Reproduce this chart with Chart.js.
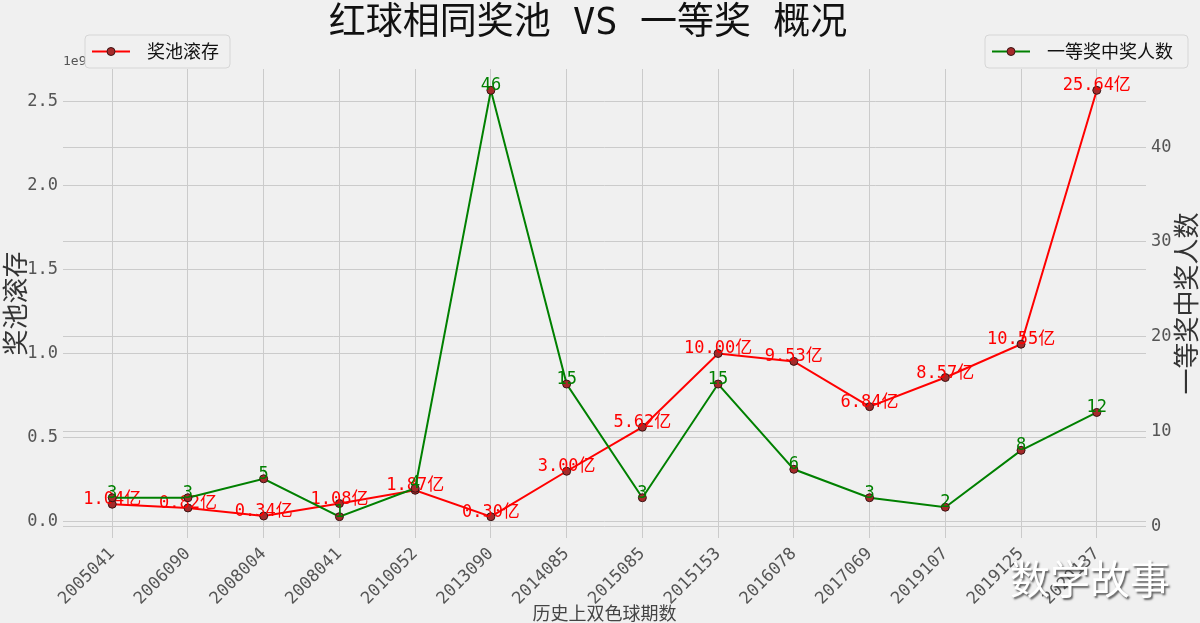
<!DOCTYPE html>
<html><head><meta charset="utf-8">
<script src="https://cdn.jsdelivr.net/npm/chart.js@4/dist/chart.umd.min.js"></script>
<style>html,body{margin:0;padding:0;background:#f0f0f0;overflow:hidden}#wrap{width:1200px;height:623px}</style>
</head><body><div id="wrap"><canvas id="c" width="1200" height="623"></canvas></div>
<script>
const categories = ['2005041','2006090','2008004','2008041','2010052','2013090','2014085','2015085','2015153','2016078','2017069','2019107','2019125','2020137'];
const poolYi = [1.04,0.82,0.34,1.08,1.87,0.30,3.00,5.62,10.00,9.53,6.84,8.57,10.55,25.64];
const winners = [3,3,5,1,4,46,15,3,15,6,3,2,8,12];
const leftTicks = [0,0.5,1.0,1.5,2.0,2.5];
const rightTicks = [0,10,20,30,40];
const titleText = '红球相同奖池 VS 一等奖 概况';
const leftLabel = '奖池滚存';
const rightLabel = '一等奖中奖人数';
const xLabel = '历史上双色球期数';
const watermark = '数学故事';

const MONO = "'DejaVu Sans Mono','Noto Sans CJK SC',sans-serif";
const CJK = "'Noto Sans CJK SC','DejaVu Sans Mono',sans-serif";
const RED = '#ff0000', GREEN = '#008000', MARK = '#a52a2a', MARKEDGE = '#3a1515';

const poolData = categories.map((c,i)=>({x:i, y:poolYi[i]/10}));
const winData = categories.map((c,i)=>({x:i, y:winners[i]}));

const bgPlugin = {
  id:'bg',
  beforeDraw(chart){
    const ctx = chart.ctx; ctx.save();
    ctx.fillStyle = '#f0f0f0'; ctx.fillRect(0,0,chart.width,chart.height);
    ctx.restore();
  }
};

const labelPlugin = {
  id:'labels',
  afterDatasetDraw(chart, args){
    const ctx = chart.ctx; const meta = args.meta; const i = args.index;
    ctx.save();
    ctx.font = '17px ' + MONO;
    ctx.textAlign = 'center'; ctx.textBaseline = 'alphabetic';
    ctx.fillStyle = i === 0 ? RED : GREEN;
    meta.data.forEach((pt, k) => {
      const txt = i === 0 ? poolYi[k].toFixed(2) + '亿' : String(winners[k]);
      ctx.fillText(txt, pt.x, pt.y);
    });
    ctx.restore();
  }
};

function legendBox(ctx, x, y, w, h, color, text){
  ctx.save();
  ctx.beginPath();
  const r = 4;
  ctx.moveTo(x+r,y); ctx.lineTo(x+w-r,y); ctx.quadraticCurveTo(x+w,y,x+w,y+r);
  ctx.lineTo(x+w,y+h-r); ctx.quadraticCurveTo(x+w,y+h,x+w-r,y+h);
  ctx.lineTo(x+r,y+h); ctx.quadraticCurveTo(x,y+h,x,y+h-r);
  ctx.lineTo(x,y+r); ctx.quadraticCurveTo(x,y,x+r,y); ctx.closePath();
  ctx.fillStyle = 'rgba(240,240,240,0.85)'; ctx.fill();
  ctx.strokeStyle = '#d6d6d6'; ctx.lineWidth = 1; ctx.stroke();
  const cy = y + h/2;
  ctx.strokeStyle = color; ctx.lineWidth = 2;
  ctx.beginPath(); ctx.moveTo(x+7, cy); ctx.lineTo(x+45, cy); ctx.stroke();
  ctx.beginPath(); ctx.arc(x+26, cy, 4, 0, Math.PI*2);
  ctx.fillStyle = MARK; ctx.fill(); ctx.strokeStyle = MARKEDGE; ctx.lineWidth = 1; ctx.stroke();
  ctx.fillStyle = '#111'; ctx.font = '18px ' + CJK; ctx.textAlign = 'left'; ctx.textBaseline = 'middle';
  ctx.fillText(text, x+62, cy);
  ctx.restore();
}

const decorPlugin = {
  id:'decor',
  afterDraw(chart){
    const ctx = chart.ctx; const ca = chart.chartArea;
    ctx.save();
    // title
    ctx.fillStyle = '#111'; ctx.font = '37px ' + MONO;
    ctx.textAlign = 'center'; ctx.textBaseline = 'alphabetic';
    ctx.fillText(titleText, 588, 34);
    // offset text
    ctx.textBaseline = 'middle';
    ctx.fillStyle = '#555'; ctx.font = '13px ' + MONO; ctx.textAlign = 'left';
    ctx.fillText('1e9', 63, 62);
    // axis titles
    ctx.fillStyle = '#333'; ctx.font = '26px ' + CJK; ctx.textAlign = 'center';
    ctx.save(); ctx.translate(15, (ca.top+ca.bottom)/2); ctx.rotate(-Math.PI/2);
    ctx.fillText(leftLabel, 0, 0); ctx.restore();
    ctx.font = '26px ' + CJK;
    ctx.save(); ctx.translate(1186, (ca.top+ca.bottom)/2); ctx.rotate(-Math.PI/2);
    ctx.fillText(rightLabel, 0, 0); ctx.restore();
    ctx.font = '18px ' + CJK; ctx.fillStyle = '#444';
    ctx.fillText(xLabel, (ca.left+ca.right)/2, 613);
    ctx.restore();
    // legends
    legendBox(ctx, 85, 35, 145, 33, RED, '奖池滚存');
    legendBox(ctx, 985, 35, 203, 33, GREEN, '一等奖中奖人数');
    // watermark
    ctx.save();
    ctx.font = '40px ' + CJK; ctx.textAlign = 'center'; ctx.textBaseline = 'middle';
    ctx.shadowColor = 'rgba(60,60,60,0.8)'; ctx.shadowOffsetX = 1.5; ctx.shadowOffsetY = 1.5; ctx.shadowBlur = 2;
    ctx.fillStyle = '#ffffff';
    ctx.fillText(watermark, 1090, 579);
    ctx.restore();
  }
};

const gridCfg = {color:'#cbcbcb', lineWidth:1, drawTicks:false};
const tickFont = {family:MONO, size:17};

new Chart(document.getElementById('c').getContext('2d'), {
  type:'line',
  data:{datasets:[
    {label:'奖池滚存', data:poolData, yAxisID:'y', xAxisID:'x', borderColor:RED, borderWidth:2,
     pointRadius:4, pointBackgroundColor:MARK, pointBorderColor:MARKEDGE, pointBorderWidth:1, tension:0, order:2, fill:false},
    {label:'一等奖中奖人数', data:winData, yAxisID:'y2', xAxisID:'x', borderColor:GREEN, borderWidth:2,
     pointRadius:4, pointBackgroundColor:MARK, pointBorderColor:MARKEDGE, pointBorderWidth:1, tension:0, order:1, fill:false}
  ]},
  options:{
    responsive:false, animation:false, devicePixelRatio:1,
    layout:{padding:{top:69, bottom:0, left:0, right:0}},
    plugins:{legend:{display:false}, title:{display:false}, tooltip:{enabled:false}},
    scales:{
      x:{type:'linear', position:'bottom', min:-0.65, max:13.65,
         afterBuildTicks:s=>{ s.ticks = categories.map((c,i)=>({value:i})); },
         afterFit:s=>{ s.height = 85; },
         ticks:{callback:(v)=>categories[v], autoSkip:false, minRotation:45, maxRotation:45, font:tickFont, color:'#555', padding:6},
         grid:gridCfg, border:{display:false}},
      y:{type:'linear', position:'left', min:-0.0967, max:2.6907,
         afterBuildTicks:s=>{ s.ticks = leftTicks.map(v=>({value:v})); },
         afterFit:s=>{ s.width = 63; },
         ticks:{callback:(v)=>v.toFixed(1), font:tickFont, color:'#555', padding:5},
         grid:gridCfg, border:{display:false}},
      y2:{type:'linear', position:'right', min:-1.25, max:48.25,
         afterBuildTicks:s=>{ s.ticks = rightTicks.map(v=>({value:v})); },
         afterFit:s=>{ s.width = 54; },
         ticks:{callback:(v)=>String(v), font:tickFont, color:'#555', padding:5},
         grid:gridCfg, border:{display:false}}
    }
  },
  plugins:[bgPlugin, labelPlugin, decorPlugin]
});
</script></body></html>
